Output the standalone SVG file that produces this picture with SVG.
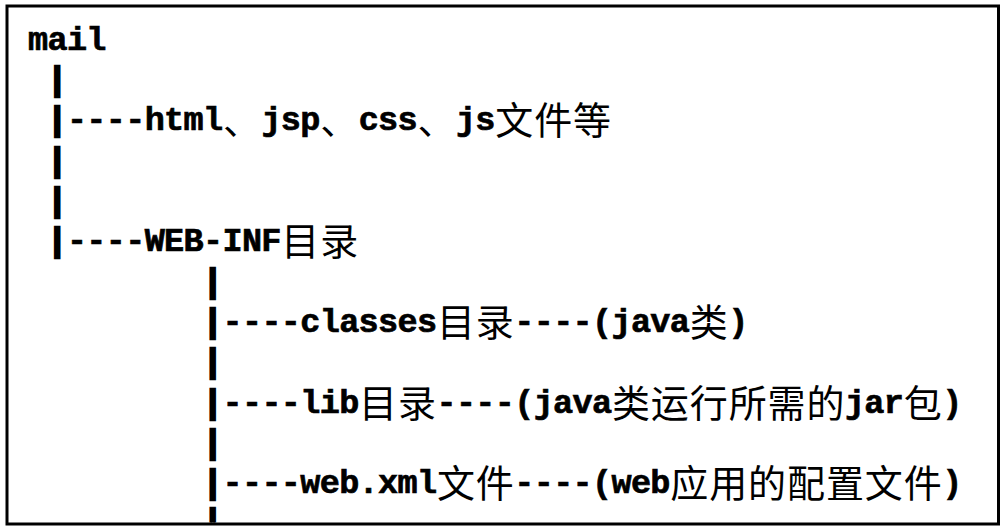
<svg xmlns="http://www.w3.org/2000/svg" width="1008" height="532" viewBox="0 0 1008 532">
<defs>
<style>
.t{font-family:"Liberation Mono","DejaVu Sans Mono",monospace;font-weight:bold;font-size:33.5px;letter-spacing:-0.66px;fill:#000;stroke:#000;stroke-width:0.7px}
.b{font-size:32.4px;letter-spacing:0;stroke-width:2.4px}
.c{font-family:"Noto Sans CJK SC","Noto Sans CJK JP",sans-serif;font-weight:normal;font-size:38px;letter-spacing:0.9px;fill:#000;stroke:none}
</style>
<clipPath id="frame"><rect x="8.5" y="7.5" width="988.5" height="515"/></clipPath>
</defs>
<rect x="0" y="0" width="1008" height="532" fill="#fff"/>
<g clip-path="url(#frame)">
<g id="connectors">
<text class="t b" x="47.45" y="90">|</text>
<text class="t b" x="47.45" y="171">|</text>
<text class="t b" x="47.45" y="211">|</text>
<text class="t b" x="203.05" y="292">|</text>
<text class="t b" x="203.05" y="372">|</text>
<text class="t b" x="203.05" y="453">|</text>
<text class="t b" x="203.05" y="532">|</text>
</g>
<g id="node-mail">
<text class="t" x="28" y="50">mail</text>
</g>
<g id="node-static">
<text class="t"><tspan class="b" x="47.45" y="130">|</tspan><tspan x="66.9" y="130">----html</tspan><tspan class="c" x="222.95" y="134">、</tspan><tspan x="261.4" y="130">jsp</tspan><tspan class="c" x="320.2" y="134">、</tspan><tspan x="358.65" y="130">css</tspan><tspan class="c" x="417.45" y="134">、</tspan><tspan x="455.9" y="130">js</tspan><tspan class="c" x="495.25" y="134">文件等</tspan></text>
</g>
<g id="node-webinf">
<text class="t"><tspan class="b" x="47.45" y="251">|</tspan><tspan x="66.9" y="251">----WEB-INF</tspan><tspan class="c" x="281.3" y="255">目录</tspan></text>
</g>
<g id="node-classes">
<text class="t"><tspan class="b" x="203.05" y="332">|</tspan><tspan x="222.5" y="332">----classes</tspan><tspan class="c" x="436.9" y="336">目录</tspan><tspan x="514.25" y="332">----(java</tspan><tspan class="c" x="689.75" y="336">类</tspan><tspan x="728.2" y="332">)</tspan></text>
</g>
<g id="node-lib">
<text class="t"><tspan class="b" x="203.05" y="413">|</tspan><tspan x="222.5" y="413">----lib</tspan><tspan class="c" x="359.1" y="417">目录</tspan><tspan x="436.45" y="413">----(java</tspan><tspan class="c" x="611.95" y="417">类运行所需的</tspan><tspan x="844.9" y="413">jar</tspan><tspan class="c" x="903.7" y="417">包</tspan><tspan x="942.15" y="413">)</tspan></text>
</g>
<g id="node-webxml">
<text class="t"><tspan class="b" x="203.05" y="493">|</tspan><tspan x="222.5" y="493">----web.xml</tspan><tspan class="c" x="436.9" y="497">文件</tspan><tspan x="514.25" y="493">----(web</tspan><tspan class="c" x="670.3" y="497">应用的配置文件</tspan><tspan x="942.15" y="493">)</tspan></text>
</g>
</g>
<rect x="7" y="6" width="991.5" height="518" fill="none" stroke="#000" stroke-width="3"/>
</svg>
